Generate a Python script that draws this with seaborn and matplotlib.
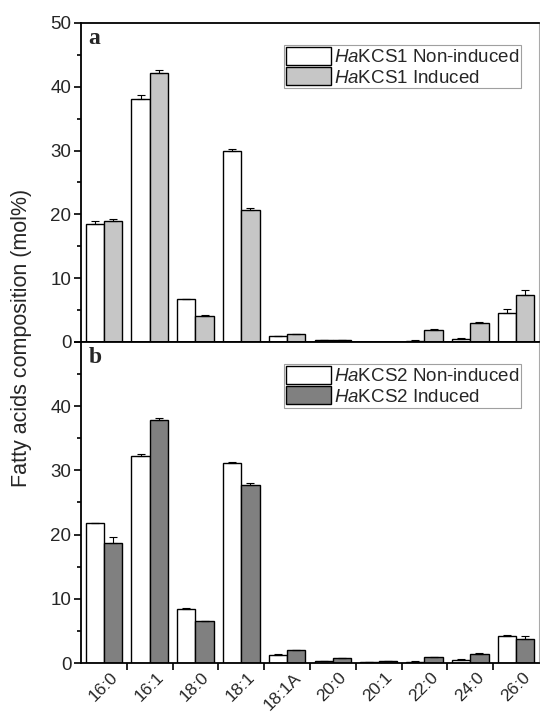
import numpy as np
import pandas as pd
import matplotlib
matplotlib.use("Agg")
import matplotlib.pyplot as plt
import matplotlib.transforms as mtransforms
from matplotlib.patches import Patch
import seaborn as sns

categories = ["16:0", "16:1", "18:0", "18:1", "18:1A", "20:0", "20:1", "22:0", "24:0", "26:0"]

kcs1_non = [18.5, 38.1, 6.7, 30.0, 0.95, 0.3, 0.0, 0.2, 0.4, 4.5]
kcs1_non_err = [0.5, 0.6, 0.1, 0.3, 0.05, 0.05, 0.0, 0.1, 0.2, 0.7]
kcs1_ind = [19.0, 42.1, 4.1, 20.7, 1.2, 0.3, 0.0, 1.9, 3.0, 7.4]
kcs1_ind_err = [0.2, 0.5, 0.2, 0.3, 0.05, 0.05, 0.0, 0.1, 0.1, 0.8]

kcs2_non = [21.8, 32.2, 8.4, 31.2, 1.3, 0.3, 0.1, 0.2, 0.5, 4.2]
kcs2_non_err = [0.05, 0.4, 0.1, 0.1, 0.05, 0.05, 0.02, 0.05, 0.05, 0.2]
kcs2_ind = [18.7, 37.9, 6.5, 27.8, 2.0, 0.8, 0.3, 0.9, 1.4, 3.7]
kcs2_ind_err = [0.9, 0.3, 0.05, 0.3, 0.1, 0.05, 0.05, 0.1, 0.15, 0.5]

labels1 = [r"$\it{Ha}$KCS1 Non-induced", r"$\it{Ha}$KCS1 Induced"]
labels2 = [r"$\it{Ha}$KCS2 Non-induced", r"$\it{Ha}$KCS2 Induced"]
colors1 = ["#ffffff", "#c6c6c6"]
colors2 = ["#ffffff", "#808080"]

sns.set_theme(style="white")
plt.rcParams["font.family"] = ["Liberation Sans", "DejaVu Sans"]
plt.rcParams["mathtext.fontset"] = "custom"
plt.rcParams["mathtext.rm"] = "Liberation Sans"
plt.rcParams["mathtext.it"] = "Liberation Sans:italic"

fig = plt.figure(figsize=(5.4, 7.12), dpi=100)
ax1 = fig.add_axes([0.15, 0.5197, 0.848, 0.448])
ax2 = fig.add_axes([0.15, 0.0688, 0.848, 0.4509])


def panel(ax, non, non_err, ind, ind_err, labels, colors, letter, show_labels):
    df = pd.DataFrame({
        "cat": categories * 2,
        "val": list(non) + list(ind),
        "grp": [labels[0]] * len(categories) + [labels[1]] * len(categories),
    })
    sns.barplot(data=df, x="cat", y="val", hue="grp", order=categories,
                hue_order=labels, palette=colors, edgecolor="black",
                linewidth=1.0, saturation=1, errorbar=None, width=0.8,
                legend=False, ax=ax)
    errs = list(non_err) + list(ind_err)
    vals = list(non) + list(ind)
    bars = [p for p in ax.patches][:len(vals)]
    for p, v, e in zip(bars, vals, errs):
        x = p.get_x() + p.get_width() / 2
        if e > 0:
            ax.errorbar(x, v, yerr=[[0], [e]], fmt="none", ecolor="black",
                        elinewidth=0.8, capsize=3, capthick=0.8)
    ax.set_ylim(0, 50)
    ax.set_xlim(-0.5, len(categories) - 0.5)
    ax.set_yticks([0, 10, 20, 30, 40, 50])
    ax.set_yticks(np.arange(5, 50, 10), minor=True)
    ax.set_xticks(range(len(categories)))
    ax.set_xticks(np.arange(0.5, len(categories) - 0.5, 1), minor=True)
    ax.tick_params(axis="x", which="major", length=0, labelsize=12.5, pad=5)
    ax.tick_params(axis="x", which="minor", length=5, width=1.2, direction="out",
                   bottom=True, color="black")
    ax.tick_params(axis="y", which="major", length=5, width=1.2, direction="out",
                   left=True, labelsize=13.5, color="black", pad=2)
    ax.tick_params(axis="y", which="minor", length=3, width=1.2, direction="out",
                   left=True, color="black")
    if show_labels:
        ax.set_xticklabels(categories, rotation=45, ha="right",
                           rotation_mode="anchor")
        off = mtransforms.ScaledTranslation(6 / 100, 0, fig.dpi_scale_trans)
        for t in ax.get_xticklabels():
            t.set_transform(t.get_transform() + off)
    else:
        ax.set_xticklabels([])
    ax.set_xlabel("")
    ax.set_ylabel("")
    for s in ["left", "bottom", "top"]:
        ax.spines[s].set_color("black")
        ax.spines[s].set_linewidth(1.3)
    ax.spines["right"].set_color("#aaaaaa")
    ax.spines["right"].set_linewidth(0.8)
    ax.text(0.016, 0.985, letter, transform=ax.transAxes, ha="left", va="top",
            fontsize=17, fontweight="bold", family=["Liberation Serif"])
    handles = [Patch(facecolor=c, edgecolor="black", linewidth=1.0) for c in colors]
    leg = ax.legend(handles, labels, loc="upper right",
                    bbox_to_anchor=(0.961, 0.931), fontsize=13.5,
                    frameon=True, fancybox=False, handlelength=2.4,
                    handleheight=1.1, labelspacing=0.05, handletextpad=0.15,
                    borderpad=0.1, borderaxespad=0)
    leg.get_frame().set_edgecolor("#888888")
    leg.get_frame().set_linewidth(0.8)


panel(ax1, kcs1_non, kcs1_non_err, kcs1_ind, kcs1_ind_err, labels1, colors1, "a", False)
panel(ax2, kcs2_non, kcs2_non_err, kcs2_ind, kcs2_ind_err, labels2, colors2, "b", True)
ax2.set_yticklabels(["0", "10", "20", "30", "40", ""])

fig.text(0.04, 0.525, "Fatty acids composition (mol%)", rotation=90,
         ha="center", va="center", fontsize=15.5)

fig.savefig("out.png", dpi=100)
